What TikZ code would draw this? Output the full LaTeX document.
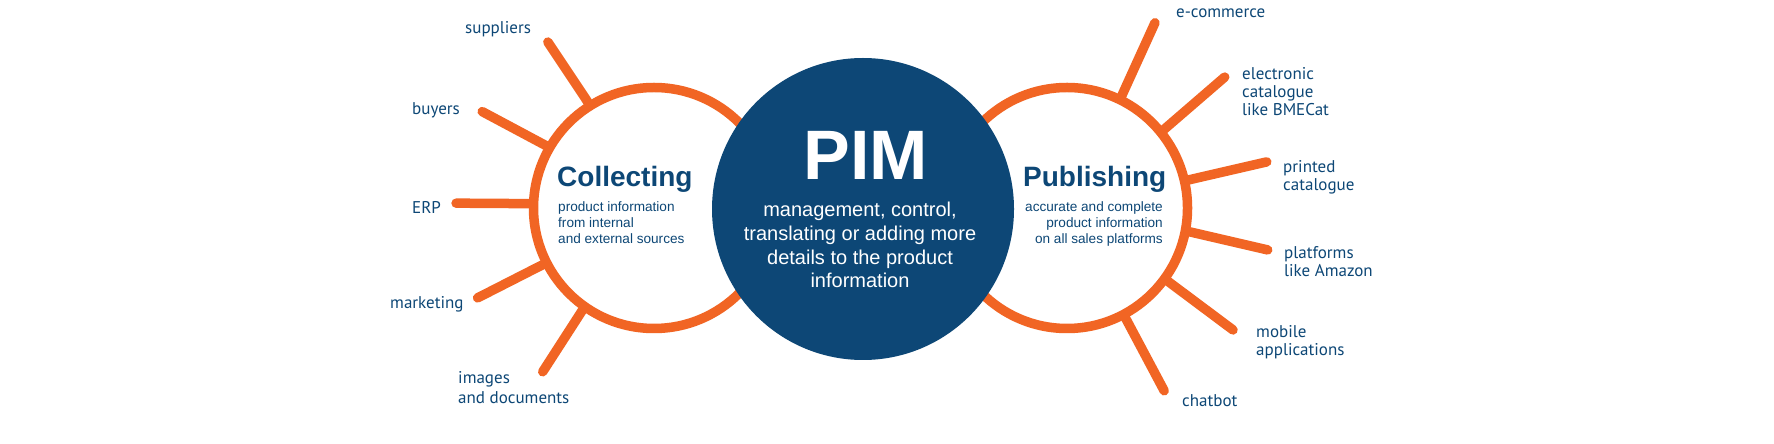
\documentclass[tikz,border=0pt]{standalone}
\usepackage{fontspec}
\usetikzlibrary{calc}
\setmainfont{Liberation Sans}
\newfontfamily\labfont{PT Sans}
\definecolor{pimorange}{HTML}{F16524}
\definecolor{pimblue}{HTML}{0D4776}
\begin{document}
\begin{tikzpicture}[x=1pt,y=1pt,
  ring/.style={circle,draw=pimorange,fill=white,line width=9.5pt,minimum size=241pt,inner sep=0pt},
  hub/.style={circle,fill=pimblue,minimum size=302pt,inner sep=0pt},
  spoke/.style={draw=pimorange,line width=9.5pt,line cap=round},
  lab/.style={text=pimblue,font=\labfont\fontsize{17}{18}\selectfont,inner sep=0pt,align=left},
  head/.style={text=pimblue,font=\fontsize{28}{30}\selectfont\bfseries,inner sep=0pt},
  sub/.style={text=pimblue,font=\fontsize{13.6}{16}\selectfont,inner sep=0pt}
]
\useasboundingbox[fill=white] (0,0) rectangle (1774,444);
% centres
\coordinate (cl) at (654,236);
\coordinate (cr) at (1067,236);
% spoke ends
\coordinate (e1) at ($(cl)+(122.6:197)$);
\coordinate (e2) at ($(cl)+(150.7:197)$);
\coordinate (e3) at ($(cl)+(178.6:198)$);
\coordinate (e4) at ($(cl)+(207:198)$);
\coordinate (e5) at ($(cl)+(235.8:198)$);
\coordinate (f1) at ($(cr)+(64.6:205)$);
\coordinate (f2) at ($(cr)+(39.7:205)$);
\coordinate (f3) at ($(cr)+(13:205)$);
\coordinate (f4) at ($(cr)+(-11.8:205)$);
\coordinate (f5) at ($(cr)+(-36.3:206)$);
\coordinate (f6) at ($(cr)+(-62:207)$);
% rings
\node[ring] (coll) at (cl) {};
\node[ring] (publ) at (cr) {};
\draw[spoke] (coll.122.6) -- (e1);
\draw[spoke] (coll.150.7) -- (e2);
\draw[spoke] (coll.178.6) -- (e3);
\draw[spoke] (coll.207) -- (e4);
\draw[spoke] (coll.235.8) -- (e5);
\draw[spoke] (publ.64.6) -- (f1);
\draw[spoke] (publ.39.7) -- (f2);
\draw[spoke] (publ.13) -- (f3);
\draw[spoke] (publ.-11.8) -- (f4);
\draw[spoke] (publ.-36.3) -- (f5);
\draw[spoke] (publ.-62) -- (f6);
% hub
\node[hub] (pim) at (863,235) {};
% texts
\node[head,anchor=base west] (colt) at (557,257) {Collecting};
\node[sub,anchor=base west,align=left] (cols) at (558,200) {product information\\from internal\\and external sources};
\node[head,anchor=base west] (pubt) at (1023,257) {Publishing};
\node[sub,anchor=base east,align=right] (pubs) at (1163,200) {accurate and complete\\product information\\on all sales platforms};
\node[text=white,font=\fontsize{70}{70}\selectfont\bfseries,inner sep=0pt,anchor=base] (pimt) at (866,264) {PIM};
\node[text=white,font=\fontsize{20}{23.8}\selectfont,inner sep=0pt,anchor=base,align=center] (pimb) at (860,156) {management, control,\\translating or adding more\\details to the product\\information};
% labels
\node[lab,anchor=base west] (l1) at (465,410) {suppliers};
\node[lab,anchor=base west] (l2) at (412,329) {buyers};
\node[lab,anchor=base west] (l3) at (412,230) {ERP};
\node[lab,anchor=base west] (l4) at (390,135) {marketing};
\node[lab,anchor=base west,font=\labfont\fontsize{17}{20.5}\selectfont] (l5) at (458,40) {images\\and documents};
\node[lab,anchor=base west] (r1) at (1176,426) {e-commerce};
\node[lab,anchor=base west] (r2) at (1242,328) {electronic\\catalogue\\like BMECat};
\node[lab,anchor=base west] (r3) at (1283,253) {printed\\catalogue};
\node[lab,anchor=base west] (r4) at (1284,167) {platforms\\like Amazon};
\node[lab,anchor=base west] (r5) at (1256,88) {mobile\\applications};
\node[lab,anchor=base west] (r6) at (1182,37) {chatbot};
\end{tikzpicture}
\end{document}
